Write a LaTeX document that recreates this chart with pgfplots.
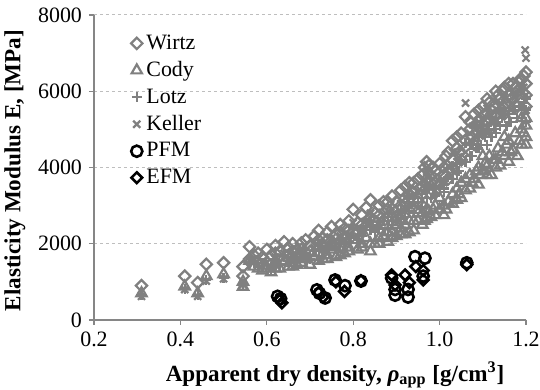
\documentclass[border=0pt]{standalone}
\usepackage{fontspec}
\setmainfont{Liberation Serif}
\usepackage{pgfplots}
\usepackage{pgfplotstable}
\pgfplotsset{compat=1.18}
\definecolor{mgray}{RGB}{128,128,128}
\definecolor{axgray}{RGB}{134,134,134}
\definecolor{gridgray}{RGB}{190,190,190}

\pgfplotstableread{
x y
0.31 900
0.41 1150
0.44 980
0.46 1460
0.50 1500
0.545 1400
0.545 1150
0.56 1920
0.56 1600
0.58 1750
0.60 1850
0.61 1700
0.62 1950
0.63 1800
0.64 2050
0.65 1900
0.66 2000
0.67 1850
0.68 2020
0.69 2100
0.70 1950
0.71 2200
0.72 2350
0.73 2150
0.74 2300
0.75 2450
0.76 2250
0.77 2500
0.78 2400
0.79 2600
0.80 2900
0.81 2550
0.82 2750
0.83 2950
0.84 3150
0.85 2800
0.86 3000
0.87 3100
0.88 2900
0.89 3250
0.90 3100
0.91 3400
0.92 3200
0.93 3600
0.94 3350
0.95 3700
0.96 3500
0.97 4150
0.975 4050
0.98 3800
0.99 3900
1.00 4100
1.01 4000
1.02 4400
1.03 4700
1.04 4500
1.05 4900
1.06 5330
1.07 5000
1.08 5400
1.09 5200
1.10 5600
1.11 5800
1.12 5500
1.13 6000
1.14 5800
1.15 6100
1.16 5900
1.17 6200
1.18 6000
1.19 6300
1.20 6500
0.65 1700
0.70 1800
0.75 2000
0.80 2300
0.85 2450
0.90 2700
0.95 3100
0.98 3300
1.00 3550
1.02 3700
1.05 4200
1.08 4600
1.10 4900
1.12 5100
1.15 5400
1.18 5600
1.20 5900
0.57 1700
0.59 1650
0.62 1750
0.66 1800
0.68 1850
0.72 2100
0.74 2100
0.77 2300
0.79 2350
0.82 2500
0.84 2700
0.86 2750
0.88 3100
0.89 2900
0.91 3000
0.92 3500
0.93 3300
0.94 3600
0.96 3800
0.965 4000
0.97 3700
0.985 4000
0.99 3600
1.01 3800
1.015 4300
1.03 4200
1.04 4800
1.045 4400
1.06 4700
1.07 5200
1.075 4800
1.085 5100
1.09 5500
1.095 5300
1.105 5400
1.11 5200
1.115 5700
1.125 5600
1.13 5400
1.135 5900
1.145 6000
1.155 5700
1.16 6200
1.165 5800
1.175 6100
1.185 6300
1.19 5800
1.195 6400
1.20 6200
1.20 5600
}\wirtz

\pgfplotstableread{
x y
0.31 700
0.41 880
0.44 700
0.46 1150
0.50 1200
0.545 1000
0.545 870
0.56 1550
0.58 1350
0.60 1350
0.61 1250
0.62 1500
0.63 1350
0.64 1550
0.65 1400
0.66 1500
0.67 1450
0.68 1500
0.69 1600
0.70 1450
0.71 1650
0.72 1750
0.73 1600
0.74 1700
0.75 1850
0.76 1650
0.77 1850
0.78 1750
0.79 1900
0.80 2100
0.81 1850
0.82 2000
0.83 2150
0.84 1800
0.85 2000
0.86 2150
0.87 2200
0.88 2050
0.89 2300
0.90 2200
0.91 2400
0.92 2250
0.93 2300
0.94 2350
0.95 2600
0.96 2500
0.97 2900
0.975 2850
0.98 2700
0.99 2750
1.00 2900
1.01 2750
1.02 3100
1.03 3300
1.04 3150
1.05 3200
1.06 3700
1.07 3450
1.08 3700
1.09 3550
1.10 3900
1.11 4050
1.12 3800
1.13 4200
1.14 4050
1.15 4300
1.16 4150
1.17 4450
1.18 4300
1.19 4600
1.20 4800
1.20 5100
1.19 5300
1.15 4800
1.10 4300
1.05 3600
1.00 3200
0.95 2800
0.90 2500
0.57 1400
0.59 1300
0.62 1350
0.66 1400
0.68 1600
0.72 1550
0.74 1600
0.77 1700
0.79 1800
0.82 1900
0.84 2000
0.86 2000
0.88 2300
0.89 2150
0.91 2250
0.92 2500
0.93 2600
0.94 2600
0.96 2800
0.965 2600
0.97 2650
0.985 2900
0.99 3000
1.01 3000
1.015 2900
1.03 3050
1.04 3450
1.045 3300
1.06 3400
1.07 3800
1.075 3600
1.085 3900
1.09 4000
1.095 3800
1.105 4100
1.11 3800
1.115 4300
1.125 4200
1.13 4000
1.135 4500
1.145 4400
1.155 4600
1.16 4700
1.165 4400
1.175 4900
1.185 4700
1.19 5000
1.195 4900
1.20 4600
1.20 5300
}\cody

\pgfplotstableread{
x y
0.31 650
0.41 820
0.44 650
0.46 1050
0.50 1100
0.545 950
0.56 1500
0.58 1400
0.60 1450
0.61 1350
0.62 1600
0.63 1450
0.64 1700
0.65 1550
0.66 1650
0.67 1550
0.68 1650
0.69 1750
0.70 1600
0.71 1800
0.72 1950
0.73 1800
0.74 1900
0.75 2050
0.76 1850
0.77 2100
0.78 2000
0.79 2150
0.80 2400
0.81 2100
0.82 2300
0.83 2450
0.84 2600
0.85 2300
0.86 2500
0.87 2600
0.88 2400
0.89 2700
0.90 2600
0.91 2850
0.92 2700
0.93 3000
0.94 2800
0.95 3100
0.96 2950
0.97 3550
0.975 3450
0.98 3200
0.99 3300
1.00 3500
1.01 3350
1.02 3750
1.03 4050
1.04 3850
1.05 4200
1.06 4650
1.07 4300
1.08 4700
1.09 4500
1.10 4900
1.11 5100
1.12 4800
1.13 5300
1.14 5100
1.15 5400
1.16 5200
1.17 5500
1.18 5300
1.19 5600
1.20 5800
0.57 1550
0.59 1500
0.62 1500
0.66 1600
0.68 1750
0.72 1800
0.74 1850
0.77 2000
0.79 2050
0.82 2200
0.84 2350
0.86 2400
0.88 2700
0.89 2500
0.91 2650
0.92 3000
0.93 2850
0.94 3100
0.96 3300
0.965 3400
0.97 3200
0.985 3500
0.99 3250
1.01 3450
1.015 3700
1.03 3700
1.04 4100
1.045 3900
1.06 4150
1.07 4600
1.075 4300
1.085 4500
1.09 4800
1.095 4600
1.105 4800
1.11 4600
1.115 5000
1.125 5000
1.13 4900
1.135 5200
1.145 5300
1.155 5100
1.16 5400
1.165 5200
1.175 5500
1.185 5600
1.19 5300
1.195 5700
1.20 5500
1.20 5200
}\lotz

\pgfplotstableread{
x y
0.31 620
0.41 800
0.44 620
0.46 1020
0.50 1080
0.545 930
0.56 1550
0.58 1450
0.60 1500
0.61 1400
0.62 1650
0.63 1500
0.64 1750
0.65 1600
0.66 1700
0.67 1600
0.68 1700
0.69 1800
0.70 1650
0.71 1900
0.72 2050
0.73 1850
0.74 2000
0.75 2150
0.76 1950
0.77 2200
0.78 2100
0.79 2250
0.80 2550
0.81 2200
0.82 2400
0.83 2600
0.84 2800
0.85 2450
0.86 2650
0.87 2750
0.88 2550
0.89 2900
0.90 2750
0.91 3050
0.92 2850
0.93 3250
0.94 3000
0.95 3350
0.96 3150
0.97 3900
0.975 3750
0.98 3450
0.99 3550
1.00 3750
1.01 3600
1.02 4050
1.03 4400
1.04 4150
1.05 4550
1.06 5690
1.07 4700
1.08 5100
1.09 4900
1.10 5300
1.11 5550
1.12 5200
1.13 5700
1.14 5500
1.15 5850
1.16 5600
1.17 5950
1.18 5750
1.19 6100
1.198 7080
1.20 6870
0.57 1600
0.59 1550
0.62 1600
0.66 1650
0.68 1800
0.72 1900
0.74 1950
0.77 2100
0.79 2150
0.82 2300
0.84 2500
0.86 2500
0.88 2850
0.89 2650
0.91 2800
0.92 3200
0.93 3000
0.94 3300
0.96 3500
0.965 3650
0.97 3400
0.985 3700
0.99 3400
1.01 3650
1.015 3950
1.03 3900
1.04 4400
1.045 4150
1.06 4400
1.07 4900
1.075 4550
1.085 4800
1.09 5100
1.095 4900
1.105 5100
1.11 4900
1.115 5350
1.125 5300
1.13 5200
1.135 5500
1.145 5650
1.155 5400
1.16 5750
1.165 5500
1.175 5850
1.185 6000
1.19 5600
1.195 6100
1.20 5900
1.20 5500
}\keller

\pgfplotstableread{
x y
0.625 620
0.632 560
0.716 790
0.722 700
0.735 577
0.758 1050
0.781 900
0.818 1020
0.889 1100
0.897 800
0.897 650
0.927 800
0.927 600
0.943 1660
0.966 1620
0.962 1150
1.063 1500
}\pfm

\pgfplotstableread{
x y
0.63 520
0.635 450
0.72 720
0.73 600
0.76 1000
0.78 750
0.818 1030
0.889 1180
0.897 920
0.92 1180
0.93 980
0.945 1400
0.962 1300
0.962 1050
1.063 1450
}\efm

\begin{document}
\begin{tikzpicture}
\begin{axis}[
  scale only axis,
  width=216bp, height=152.5bp,
  xmin=0.2, xmax=1.2, ymin=0, ymax=8000,
  xtick={0.2,0.4,...,1.21},
  ytick={0,2000,4000,6000,8000},
  axis lines=left,
  axis line style={-, draw=axgray, line width=0.6bp},
  tick style={draw=axgray, line width=0.6bp},
  tick align=outside,
  major tick length=2.5bp,
  ymajorgrids,
  grid style={draw=gridgray, dash pattern=on 1.5bp off 1.5bp, line width=0.5bp},
  font=\fontsize{11}{13}\selectfont,
  tick label style={font=\fontsize{11}{13}\selectfont},
  /pgf/number format/assume math mode=true,
  x tick label style={/pgf/number format/.cd, fixed, fixed zerofill, precision=1},
  y tick label style={/pgf/number format/.cd, 1000 sep={}},
  xlabel={\textbf{Apparent dry density, \textit{ρ}\textsubscript{app} [g/cm\textsuperscript{3}]}},
  ylabel={\textbf{Elasticity Modulus E, [MPa]}},
  xlabel style={at={(axis description cs:0.558,-0.18)}, anchor=center, font=\fontsize{11.6}{13}\selectfont},
  ylabel style={at={(axis description cs:-0.183,0.49)}, anchor=center, font=\fontsize{11.6}{13}\selectfont},
  legend style={at={(axis description cs:0.085,0.95)}, anchor=north west, draw=none, fill=none,
    font=\fontsize{11}{13}\selectfont, row sep=0.6bp, inner sep=0pt},
  legend cell align=left,
]
\addplot[only marks, mark=square, mark size=2.0bp, mark options={rotate=45, draw=mgray, line width=1.1bp}] table {\wirtz};
\addlegendentry{Wirtz}
\addplot[only marks, mark=triangle, mark size=3.0bp, mark options={draw=mgray, line width=1.1bp}] table {\cody};
\addlegendentry{Cody}
\addplot[only marks, mark=+, mark size=2.5bp, mark options={draw=mgray, line width=1.1bp}] table {\lotz};
\addlegendentry{Lotz}
\addplot[only marks, mark=x, mark size=2.5bp, mark options={draw=mgray, line width=1.1bp}] table {\keller};
\addlegendentry{Keller}
\addplot[only marks, mark=o, mark size=2.8bp, mark options={draw=black, line width=1.3bp}] table {\pfm};
\addlegendentry{PFM}
\addplot[only marks, mark=square, mark size=1.9bp, mark options={rotate=45, draw=black, line width=1.3bp}] table {\efm};
\addlegendentry{EFM}
\coordinate (LL) at (rel axis cs:0,0);
\coordinate (UR) at (rel axis cs:1,1);
\end{axis}
\pgfresetboundingbox
\path ([shift={(-47bp,-35bp)}]LL) rectangle ([shift={(7bp,7.5bp)}]UR);
\end{tikzpicture}
\end{document}
